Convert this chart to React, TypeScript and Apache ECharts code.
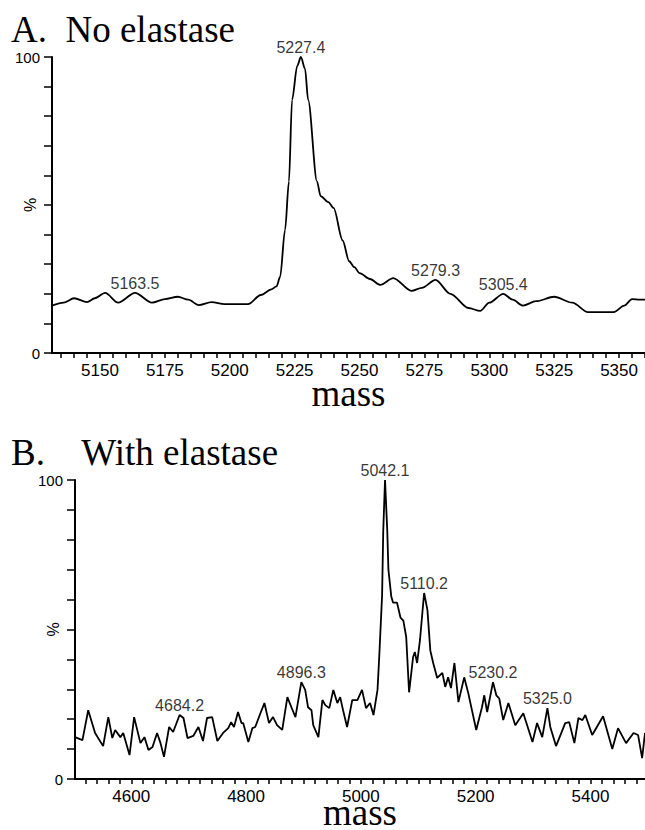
import React, { useEffect, useRef } from 'react';
import * as echarts from 'echarts';

// Panel A: No elastase
const topMass = [5131.5, 5136, 5140, 5145, 5148, 5152, 5157, 5163.5, 5170, 5175, 5180, 5184, 5188, 5193, 5198, 5207, 5212, 5216, 5218, 5219.4, 5221.3, 5222.8, 5224, 5226, 5227.4, 5229, 5230.2, 5233.6, 5235, 5238, 5240, 5243.5, 5246, 5248, 5250, 5254, 5258, 5263, 5270, 5274, 5279.3, 5285, 5292, 5296.5, 5300, 5305.4, 5309, 5313, 5318, 5325, 5332, 5338, 5348, 5352, 5355, 5358, 5360];
const topIntensity = [16, 17, 18.5, 17.2, 18.5, 20.3, 17, 20.3, 17, 18.2, 19, 18, 16.2, 17.2, 16.5, 16.5, 19.6, 21.5, 22.5, 25.7, 41.6, 58, 85.5, 97, 100, 96, 85.5, 58, 53, 51, 49, 38, 31, 29, 27, 25, 23, 25.3, 21, 22, 24.7, 20, 15.2, 14.2, 17, 20, 18, 16, 17.5, 19, 17, 13.8, 13.8, 16, 18.2, 18, 18];
const topPeakMass = [5163.5, 5227.4, 5279.3, 5305.4];
const topPeakIntensity = [20.3, 100, 24.7, 20];
const topXLabels = [5150, 5175, 5200, 5225, 5250, 5275, 5300, 5325, 5350];

// Panel B: With elastase
const botMass = [4502, 4515, 4525, 4537, 4551, 4560, 4567, 4572, 4581, 4586, 4597, 4605, 4616, 4623, 4630, 4637, 4645, 4651, 4657, 4666, 4673, 4684.2, 4691, 4698, 4708, 4717, 4725, 4732, 4741, 4750, 4760, 4769, 4774, 4779, 4786, 4792, 4795, 4804, 4811, 4816, 4825, 4832, 4840, 4847, 4854, 4863, 4872, 4879, 4886, 4891, 4896.3, 4903, 4908, 4914, 4917, 4926, 4933, 4938, 4945, 4952, 4959, 4964, 4969, 4976, 4985, 4994, 5002, 5009, 5016, 5022, 5029, 5032, 5037, 5039, 5042.1, 5046, 5048, 5053, 5056, 5063, 5069, 5074, 5079, 5084, 5091, 5094, 5098, 5103, 5110.2, 5116, 5121, 5126, 5133, 5142, 5147, 5152, 5157, 5163, 5170, 5180, 5187, 5201, 5211, 5215, 5220, 5230.2, 5236, 5241, 5248, 5257, 5269, 5283, 5299, 5307, 5316, 5325, 5330, 5340, 5356, 5363, 5372, 5379, 5386, 5391, 5403, 5422, 5438, 5448, 5462, 5475, 5483, 5490, 5495];
const botIntensity = [14, 13, 23, 15.4, 11, 20.7, 13.7, 16.4, 14, 15.4, 8, 20.7, 12, 14, 9.7, 10.7, 15.4, 12, 7.4, 17.4, 15.7, 21.4, 20.4, 13.7, 14.4, 17.4, 12.7, 20.4, 20.7, 12.7, 15.4, 17, 19, 17.4, 22.4, 18.7, 18.7, 12.4, 17, 17.4, 22, 25.4, 18.7, 20.7, 18, 16.4, 27.4, 24, 20.7, 26.4, 32.4, 29.8, 24, 23, 18, 14, 26.4, 24.7, 23.7, 29.8, 25.4, 27.4, 23, 17.4, 26.4, 26.4, 29.8, 23.7, 25.4, 21.4, 29.8, 40.8, 61.5, 83, 100, 83, 70, 61, 59, 59, 54, 53, 47.5, 29, 40.8, 42.5, 38.8, 46.5, 62.2, 56.5, 43, 38.8, 33.8, 35.5, 30.8, 34, 30.4, 38.8, 25.7, 34, 28.8, 16.4, 24, 28, 22.4, 32.4, 28, 27, 19.7, 25.4, 18, 22, 12.4, 18.7, 14, 23.7, 17.4, 11, 18.7, 19, 12, 20.4, 19.7, 21.4, 14.7, 21, 10, 17, 12, 15.4, 14.7, 7, 15.4];
const botPeakMass = [4684.2, 4896.3, 5042.1, 5110.2, 5230.2, 5325.0];
const botPeakIntensity = [21.4, 32.4, 100, 62.2, 32.4, 23.7];
const botXLabels = [4600, 4800, 5000, 5200, 5400];

const titleA = 'A.  No elastase';
const titleB = 'B.    With elastase';

function range(a: number, b: number, step: number): number[] {
  const out: number[] = [];
  for (let v = a; v <= b + 1e-9; v += step) out.push(v);
  return out;
}

const SANS = '"Liberation Sans", Arial, sans-serif';
const SERIF = '"Liberation Serif", "Times New Roman", serif';

function yAxisCfg(gridIndex: number) {
  return {
    gridIndex,
    type: 'value',
    min: 0,
    max: 100,
    interval: 10,
    name: '%',
    nameLocation: 'middle',
    nameRotate: 90,
    nameGap: 14,
    nameMoveOverlap: false,
    nameTextStyle: { fontSize: 16, fontFamily: SANS, color: '#000' },
    axisLine: { show: true, lineStyle: { color: '#000', width: 2 } },
    axisTick: { show: true, length: 8, lineStyle: { color: '#000', width: 1.5 } },
    axisLabel: {
      fontSize: 15,
      fontFamily: SANS,
      color: '#000',
      margin: 12,
      formatter: (v: number) => (v === 0 || v === 100 ? String(v) : ''),
    },
    splitLine: { show: false },
  };
}

function xAxisCfg(gridIndex: number, min: number, max: number, ticks: number[], labels: number[], nameGap: number) {
  return {
    gridIndex,
    type: 'value',
    min,
    max,
    name: 'mass',
    nameLocation: 'middle',
    nameGap,
    nameMoveOverlap: false,
    nameTextStyle: { fontSize: 37, lineHeight: 20, fontFamily: SERIF, color: '#000' },
    axisLine: { show: true, onZero: false, lineStyle: { color: '#000', width: 2 } },
    axisTick: { show: true, length: 5, customValues: ticks, lineStyle: { color: '#000', width: 1.5 } },
    axisLabel: {
      customValues: labels,
      fontSize: 17,
      fontFamily: SANS,
      color: '#000',
      margin: 9,
      formatter: (v: number) => String(v),
    },
    splitLine: { show: false },
  };
}

function peakSeries(xi: number, masses: number[], vals: number[]) {
  return {
    type: 'scatter',
    xAxisIndex: xi,
    yAxisIndex: xi,
    symbolSize: 1,
    itemStyle: { color: 'rgba(0,0,0,0)' },
    silent: true,
    z: 5,
    data: masses.map((m, i) => [m, vals[i]]),
    label: {
      show: true,
      position: 'top',
      distance: 1,
      fontSize: 16,
      fontFamily: SANS,
      color: '#000',
      textBorderWidth: 0,
      formatter: (p: any) => Number(p.value[0]).toFixed(1),
    },
  };
}

export default function App() {
  const ref = useRef<HTMLDivElement>(null);
  useEffect(() => {
    if (!ref.current) return;
    const chart = echarts.init(ref.current, undefined, { renderer: 'svg' });
    const option: any = {
      animation: false,
      backgroundColor: '#fff',
      grid: [
        { left: 52, top: 57, width: 593, height: 296, outerBoundsMode: 'none', containLabel: false },
        { left: 75, top: 480, width: 570, height: 299, outerBoundsMode: 'none', containLabel: false },
      ],
      xAxis: [
        xAxisCfg(0, 5131.5, 5360, range(5135, 5360, 5), topXLabels, 30),
        xAxisCfg(1, 4502, 5495, range(4520, 5480, 20), botXLabels, 23),
      ],
      yAxis: [yAxisCfg(0), yAxisCfg(1)],
      graphic: [
        {
          type: 'text',
          x: 11,
          y: 29,
          style: { text: titleA, fontSize: 37, fontFamily: SERIF, fill: '#000', align: 'left', verticalAlign: 'middle' },
        },
        {
          type: 'text',
          x: 11,
          y: 452,
          style: { text: titleB, fontSize: 37, fontFamily: SERIF, fill: '#000', align: 'left', verticalAlign: 'middle' },
        },
      ],
      series: [
        {
          type: 'line',
          xAxisIndex: 0,
          yAxisIndex: 0,
          showSymbol: false,
          smooth: 0.3,
          smoothMonotone: 'x',
          lineStyle: { color: '#000', width: 1.8 },
          data: topMass.map((m, i) => [m, topIntensity[i]]),
        },
        peakSeries(0, topPeakMass, topPeakIntensity),
        {
          type: 'line',
          xAxisIndex: 1,
          yAxisIndex: 1,
          showSymbol: false,
          lineStyle: { color: '#000', width: 1.8 },
          data: botMass.map((m, i) => [m, botIntensity[i]]),
        },
        peakSeries(1, botPeakMass, botPeakIntensity),
      ],
    };
    chart.setOption(option);
    return () => chart.dispose();
  }, []);
  return <div ref={ref} style={{ position: 'fixed', left: 0, top: 0, width: 645, height: 830 }} />;
}
